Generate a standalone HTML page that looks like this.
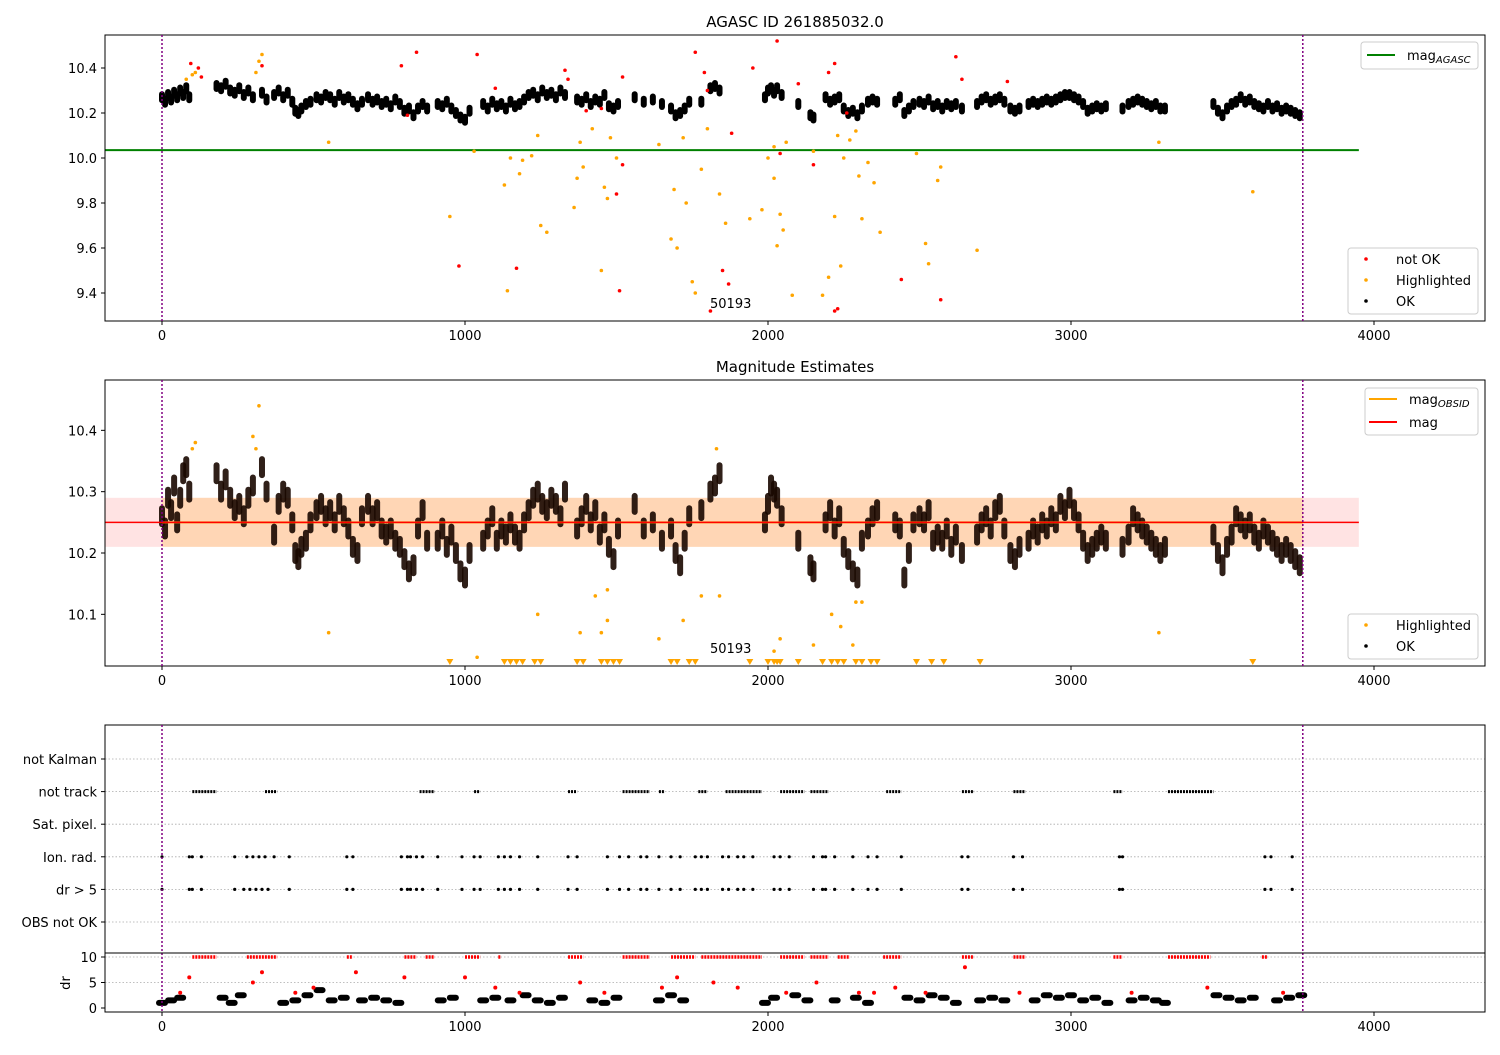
<!DOCTYPE html>
<html><head><meta charset="utf-8"><style>
body{margin:0;background:#fff}
svg text{font-family:"DejaVu Sans","Liberation Sans",sans-serif;font-size:13px;fill:#000}
</style></head><body>
<svg id="fig" width="1500" height="1050" xmlns="http://www.w3.org/2000/svg">
<defs>
<clipPath id="c1"><rect x="105" y="35" width="1380" height="286"/></clipPath>
<clipPath id="c2"><rect x="105" y="380" width="1380" height="286"/></clipPath>
<clipPath id="c3"><rect x="105" y="725" width="1380" height="287"/></clipPath>
</defs>
<text x="795" y="27" text-anchor="middle" style="font-size:15px">AGASC ID 261885032.0</text>
<text x="795" y="372" text-anchor="middle" style="font-size:15px">Magnitude Estimates</text>
<g id="g1" clip-path="url(#c1)"></g>
<g id="g2" clip-path="url(#c2)"></g>
<g id="g3" clip-path="url(#c3)"></g>
<g id="axes"></g>
</svg>
<script>
const okT=[0,10,20,30,40,50,60,70,80,90,180,195,210,225,240,255,270,285,300,330,345,370,385,400,415,430,440,450,460,475,490,510,525,540,555,570,585,600,615,630,645,660,680,695,710,725,740,755,770,785,800,815,830,845,860,875,910,925,940,955,970,985,1000,1015,1060,1075,1090,1105,1120,1135,1150,1165,1180,1195,1210,1225,1240,1255,1270,1285,1300,1315,1330,1370,1385,1400,1415,1430,1445,1460,1475,1490,1505,1560,1590,1620,1650,1680,1695,1710,1725,1740,1780,1810,1825,1840,1990,2000,2010,2020,2030,2045,2100,2140,2150,2190,2205,2220,2235,2250,2265,2280,2295,2310,2330,2345,2360,2420,2435,2450,2465,2480,2500,2515,2530,2545,2560,2575,2590,2605,2620,2640,2690,2705,2720,2735,2750,2765,2780,2800,2815,2830,2860,2875,2890,2905,2920,2935,2950,2965,2980,2995,3010,3025,3040,3055,3070,3085,3100,3115,3170,3190,3205,3220,3235,3250,3265,3280,3295,3310,3470,3485,3500,3515,3530,3545,3560,3575,3590,3605,3620,3635,3650,3665,3680,3695,3710,3725,3740,3755];
const okMag1=[10.27,10.25,10.28,10.26,10.29,10.27,10.30,10.28,10.31,10.27,10.32,10.31,10.33,10.30,10.29,10.31,10.28,10.30,10.27,10.29,10.26,10.28,10.30,10.27,10.29,10.25,10.21,10.20,10.22,10.24,10.25,10.27,10.26,10.28,10.27,10.25,10.28,10.26,10.27,10.25,10.23,10.25,10.27,10.25,10.26,10.24,10.25,10.23,10.26,10.24,10.21,10.22,10.19,10.22,10.24,10.22,10.24,10.23,10.25,10.22,10.20,10.18,10.17,10.21,10.24,10.22,10.25,10.23,10.24,10.22,10.25,10.23,10.24,10.26,10.28,10.29,10.27,10.30,10.28,10.29,10.27,10.30,10.28,10.26,10.25,10.27,10.24,10.26,10.25,10.28,10.23,10.22,10.24,10.27,10.25,10.26,10.24,10.22,10.19,10.20,10.22,10.25,10.25,10.31,10.32,10.30,10.27,10.30,10.31,10.29,10.31,10.28,10.24,10.19,10.18,10.27,10.25,10.26,10.27,10.22,10.20,10.21,10.19,10.22,10.25,10.26,10.25,10.25,10.27,10.20,10.22,10.24,10.25,10.24,10.26,10.23,10.24,10.22,10.24,10.23,10.24,10.22,10.24,10.26,10.27,10.25,10.26,10.27,10.25,10.22,10.21,10.22,10.24,10.25,10.24,10.25,10.26,10.25,10.26,10.27,10.28,10.28,10.27,10.26,10.24,10.21,10.22,10.23,10.22,10.23,10.22,10.24,10.25,10.26,10.25,10.24,10.23,10.24,10.22,10.22,10.24,10.21,10.19,10.22,10.24,10.25,10.27,10.25,10.26,10.24,10.23,10.22,10.24,10.22,10.23,10.21,10.22,10.21,10.20,10.19];
const okMag2=[10.26,10.24,10.29,10.27,10.31,10.25,10.29,10.33,10.34,10.30,10.33,10.30,10.32,10.29,10.27,10.28,10.26,10.29,10.31,10.34,10.30,10.23,10.28,10.30,10.29,10.25,10.20,10.19,10.21,10.22,10.25,10.27,10.28,10.26,10.27,10.25,10.28,10.26,10.24,10.21,10.20,10.26,10.28,10.26,10.27,10.24,10.23,10.24,10.22,10.21,10.19,10.17,10.18,10.24,10.27,10.22,10.22,10.24,10.21,10.23,10.20,10.17,10.16,10.20,10.22,10.24,10.26,10.22,10.24,10.23,10.25,10.23,10.22,10.25,10.27,10.29,10.30,10.28,10.27,10.29,10.28,10.26,10.30,10.24,10.26,10.28,10.25,10.27,10.23,10.25,10.21,10.19,10.24,10.28,10.24,10.25,10.22,10.24,10.20,10.18,10.22,10.26,10.27,10.30,10.31,10.33,10.25,10.28,10.31,10.30,10.29,10.26,10.22,10.18,10.17,10.25,10.27,10.24,10.26,10.21,10.19,10.17,10.16,10.22,10.24,10.26,10.27,10.25,10.24,10.16,10.20,10.25,10.26,10.25,10.27,10.22,10.23,10.22,10.24,10.21,10.23,10.20,10.23,10.25,10.26,10.24,10.27,10.28,10.24,10.20,10.19,10.21,10.22,10.24,10.23,10.25,10.24,10.26,10.25,10.28,10.27,10.29,10.27,10.25,10.22,10.20,10.21,10.22,10.23,10.22,10.21,10.23,10.26,10.25,10.24,10.23,10.22,10.21,10.20,10.21,10.23,10.20,10.18,10.21,10.23,10.26,10.25,10.24,10.25,10.23,10.22,10.24,10.23,10.22,10.21,10.20,10.21,10.20,10.19,10.18];
const hiT1=[80,100,110,310,320,330,550,950,1030,1130,1140,1150,1180,1190,1220,1240,1250,1270,1360,1370,1380,1390,1420,1450,1460,1470,1480,1500,1640,1680,1690,1700,1720,1730,1750,1760,1780,1800,1840,1860,1940,1980,2000,2020,2020,2030,2040,2050,2060,2080,2150,2180,2200,2220,2230,2240,2250,2270,2290,2300,2310,2330,2350,2370,2490,2520,2530,2560,2570,2690,3290,3600];
const hiMag1=[10.35,10.37,10.38,10.38,10.43,10.46,10.07,9.74,10.03,9.88,9.41,10.0,9.93,9.99,10.01,10.1,9.7,9.67,9.78,9.91,10.07,9.96,10.13,9.5,9.87,9.82,10.09,10.0,10.06,9.64,9.86,9.6,10.09,9.8,9.45,9.4,9.95,10.13,9.84,9.71,9.73,9.77,10.0,10.05,9.91,9.61,9.75,9.68,10.07,9.39,10.03,9.39,9.47,9.74,10.1,9.52,10.0,10.08,10.12,9.92,9.73,9.98,9.89,9.67,10.02,9.62,9.53,9.9,9.96,9.59,10.07,9.85];
const badT=[95,120,130,330,790,840,810,980,1040,1170,1100,1330,1340,1400,1450,1500,1510,1520,1520,1760,1790,1800,1810,1850,1870,1880,1950,2030,2040,2100,2150,2200,2220,2220,2230,2260,2440,2570,2620,2640,2790];
const badMag=[10.42,10.4,10.36,10.41,10.41,10.47,10.19,9.52,10.46,9.51,10.31,10.39,10.35,10.21,10.22,9.84,9.41,10.36,9.97,10.47,10.38,10.3,9.32,9.5,9.44,10.11,10.4,10.52,10.02,10.33,9.97,10.38,10.42,9.32,9.33,10.2,9.46,9.37,10.45,10.35,10.34];
const hiT2=[100,110,300,310,320,550,1040,1240,1380,1430,1450,1470,1470,1640,1720,1780,1830,1840,2020,2040,2150,2210,2240,2280,2290,2310,3290];
const hiMag2=[10.37,10.38,10.39,10.37,10.44,10.07,10.03,10.1,10.07,10.13,10.07,10.09,10.14,10.06,10.09,10.13,10.37,10.13,10.04,10.06,10.05,10.1,10.08,10.05,10.12,10.12,10.07];
const lowT2=[950,1130,1150,1170,1190,1230,1250,1370,1390,1450,1470,1490,1510,1680,1700,1740,1760,1940,2000,2020,2030,2040,2100,2180,2210,2230,2250,2290,2310,2340,2360,2490,2540,2580,2700,3600];
const agascMag=[10.035];
const obsMag=[10.25], bandLo=[10.21], bandHi=[10.29];
const flagRows=["not Kalman","not track","Sat. pixel.","Ion. rad.","dr > 5","OBS not OK"];
const trackStart=[100,340,850,1030,1340,1520,1640,1770,1860,2040,2140,2390,2640,2810,3140,3320];
const trackEnd=[180,380,900,1050,1370,1610,1660,1800,1980,2120,2200,2440,2680,2850,3170,3470];
const ionT=[0,90,100,130,240,280,300,320,340,370,420,610,630,790,810,820,840,860,910,990,1030,1050,1110,1130,1150,1180,1240,1340,1370,1470,1510,1540,1580,1600,1640,1680,1710,1760,1780,1800,1850,1870,1900,1920,1950,2020,2040,2070,2150,2180,2190,2220,2280,2330,2360,2440,2640,2660,2810,2840,3160,3170,3640,3660,3730];
const drBigT=[0,90,100,130,240,270,290,310,330,350,420,610,630,790,810,820,840,860,910,990,1030,1050,1110,1130,1150,1180,1240,1340,1370,1470,1510,1540,1580,1600,1640,1680,1710,1760,1780,1800,1850,1870,1900,1920,1950,2020,2040,2070,2150,2180,2190,2220,2280,2330,2360,2440,2640,2660,2810,2840,3160,3170,3640,3660,3730];
const drRunStart=[100,280,610,800,870,1000,1110,1340,1520,1680,1780,2040,2140,2230,2380,2640,2810,3140,3320,3630];
const drRunEnd=[180,380,630,840,900,1050,1120,1390,1610,1760,1980,2120,2200,2270,2440,2680,2850,3170,3460,3650];
const drT=[0,30,60,200,230,260,400,440,480,520,560,600,660,700,740,780,920,960,1060,1100,1150,1200,1240,1280,1320,1420,1460,1500,1640,1680,1720,1990,2020,2090,2130,2220,2290,2330,2460,2500,2540,2580,2620,2700,2740,2780,2880,2920,2960,3000,3040,3080,3120,3200,3240,3280,3310,3480,3520,3560,3600,3680,3720,3760];
const drV=[1.0,1.5,2.0,2.0,1.0,2.5,1.0,1.5,2.5,3.5,1.5,2.0,1.5,2.0,1.5,1.0,1.5,2.0,1.5,2.0,1.5,2.5,1.5,1.0,2.0,1.5,1.0,2.0,1.5,2.5,1.5,1.0,2.0,2.5,1.5,1.5,2.0,1.0,2.0,1.5,2.5,2.0,1.0,1.5,2.0,1.5,1.5,2.5,2.0,2.5,1.5,2.0,1.0,1.5,2.0,1.5,1.0,2.5,2.0,1.5,2.0,1.5,2.0,2.5];
const drRedT=[60,90,300,330,440,500,640,800,1000,1100,1180,1380,1460,1650,1700,1820,1900,2060,2160,2300,2350,2420,2520,2650,2830,3200,3450,3700];
const drRedV=[3,6,5,7,3,4,7,6,6,4,3,5,3,4,6,5,4,3,5,3,3,4,3,8,3,3,4,3];
const xTicks=[0,1000,2000,3000,4000];
const y1Ticks=[9.4,9.6,9.8,10.0,10.2,10.4];
const y2Ticks=[10.1,10.2,10.3,10.4];
const drTicks=[0,5,10];

const NS="http://www.w3.org/2000/svg";
const X=t=>162+t*0.303;
const Y1=m=>158-(m-10)*225;
const Y2=m=>553-(m-10.2)*613.3;
const Y3=i=>759+i*32.6;
const YD=v=>1008-v*5.1;
function mk(p,tag,a){const e=document.createElementNS(NS,tag);for(const k in a)e.setAttribute(k,a[k]);p.appendChild(e);return e;}
const g1=document.getElementById('g1'),g2=document.getElementById('g2'),g3=document.getElementById('g3'),ax=document.getElementById('axes');

let e;
e=mk(g1,'line',{x1:105,x2:X(3950),y1:Y1(agascMag[0]),y2:Y1(agascMag[0]),stroke:'green','stroke-width':2});

// OK points drawn as small clusters (marker glyph elongated to mimic point scatter)
okT.forEach((t,i)=>{e=mk(g1,'rect',{x:X(t)-3,y:Y1(okMag1[i])-6,width:6,height:12,rx:3,fill:'#000'});
});
hiT1.forEach((t,i)=>{e=mk(g1,'circle',{cx:X(t),cy:Y1(hiMag1[i]),r:1.8,fill:'orange'});
});
badT.forEach((t,i)=>{e=mk(g1,'circle',{cx:X(t),cy:Y1(badMag[i]),r:1.8,fill:'red'});
});

e=mk(g2,'rect',{x:105,y:Y2(bandHi[0]),width:X(3950)-105,height:Y2(bandLo[0])-Y2(bandHi[0]),fill:'rgba(255,0,0,0.11)'});

e=mk(g2,'rect',{x:X(0),y:Y2(bandHi[0]),width:X(3765)-X(0),height:Y2(bandLo[0])-Y2(bandHi[0]),fill:'rgba(255,165,0,0.2)'});

okT.forEach((t,i)=>{e=mk(g2,'rect',{x:X(t)-3,y:Y2(okMag2[i])-11,width:6,height:22,rx:3,fill:'#1a0800','fill-opacity':0.9});
});
hiT2.forEach((t,i)=>{e=mk(g2,'circle',{cx:X(t),cy:Y2(hiMag2[i]),r:1.8,fill:'orange'});
});
lowT2.forEach(t=>{const x=X(t),y=663;e=mk(g2,'polygon',{points:`${x-3.5},${y-4} ${x+3.5},${y-4} ${x},${y+2}`,fill:'orange'});
});
e=mk(g2,'line',{x1:X(0),x2:X(3765),y1:Y2(obsMag[0]),y2:Y2(obsMag[0]),stroke:'orange','stroke-width':2});

e=mk(g2,'line',{x1:105,x2:X(3950),y1:Y2(obsMag[0]),y2:Y2(obsMag[0]),stroke:'red','stroke-width':1.5});


flagRows.forEach((n,i)=>{e=mk(g3,'line',{x1:105,x2:1485,y1:Y3(i),y2:Y3(i),stroke:'#aaa','stroke-dasharray':'1.5,2','stroke-width':0.8});
});
[5,10].forEach(v=>{e=mk(g3,'line',{x1:105,x2:1485,y1:YD(v),y2:YD(v),stroke:'#aaa','stroke-dasharray':'1.5,2','stroke-width':0.8});
});
trackStart.forEach((s,i)=>{e=mk(g3,'line',{x1:X(s),x2:X(trackEnd[i]),y1:Y3(1),y2:Y3(1),stroke:'#000','stroke-width':3,'stroke-dasharray':'2,1'});
});
ionT.forEach(t=>{e=mk(g3,'circle',{cx:X(t),cy:Y3(3),r:1.6,fill:'#000'});
});
drBigT.forEach(t=>{e=mk(g3,'circle',{cx:X(t),cy:Y3(4),r:1.6,fill:'#000'});
});
drRunStart.forEach((s,i)=>{e=mk(g3,'line',{x1:X(s),x2:X(drRunEnd[i]),y1:YD(10),y2:YD(10),stroke:'red','stroke-width':3.5,'stroke-dasharray':'2,1'});
});
drT.forEach((t,i)=>{e=mk(g3,'rect',{x:X(t)-6,y:YD(drV[i])-3,width:12,height:6,rx:3,fill:'#000'});
});
drRedT.forEach((t,i)=>{e=mk(g3,'circle',{cx:X(t),cy:YD(drRedV[i]),r:2,fill:'red'});
});

[[35,321],[380,666],[725,1012]].forEach(([a,b],k)=>{
e=mk(ax,'rect',{x:105,y:a,width:1380,height:b-a,fill:'none',stroke:'#000','stroke-width':1});

[0,3765].forEach(t=>{e=mk(ax,'line',{x1:X(t),x2:X(t),y1:a,y2:b,stroke:'purple','stroke-dasharray':'2,2','stroke-width':1.5});
});
xTicks.forEach(v=>{e=mk(ax,'line',{x1:X(v),x2:X(v),y1:b,y2:b+4,stroke:'#000'});

e=mk(ax,'text',{x:X(v),y:b+19,'text-anchor':'middle'});e.textContent=v;
});
});
e=mk(ax,'line',{x1:105,x2:1485,y1:953,y2:953,stroke:'#000'});

function yt(y,label,n){e=mk(ax,'line',{x1:101,x2:105,y1:y,y2:y,stroke:'#000'});

e=mk(ax,'text',{x:97,y:y+5,'text-anchor':'end'});e.textContent=label;
}
y1Ticks.forEach(v=>yt(Y1(v),v.toFixed(1),'y-tick-label'));
y2Ticks.forEach(v=>yt(Y2(v),v.toFixed(1),'y-tick-label'));
flagRows.forEach((n,i)=>yt(Y3(i),n,'flag-label'));
drTicks.forEach(v=>yt(YD(v),String(v),'dr-tick-label'));
e=mk(ax,'text',{x:70,y:983,'text-anchor':'middle',transform:'rotate(-90 70 983)'});e.textContent='dr';

[308,653].forEach(y=>{e=mk(ax,'text',{x:710,y:y});e.textContent='50193';
});

function box(x,y,w,h,n){e=mk(ax,'rect',{x:x,y:y,width:w,height:h,rx:3,fill:'#fff','fill-opacity':0.85,stroke:'#ccc'});
}
function lineEntry(x,y,c,label,sub,n){e=mk(ax,'line',{x1:x,x2:x+28,y1:y,y2:y,stroke:c,'stroke-width':2});

e=mk(ax,'text',{x:x+40,y:y+5});e.textContent=label;
if(sub){const s=mk(e,'tspan',{dy:3,'font-style':'italic',style:'font-size:10px'});s.textContent=sub;}
}
function dotEntry(x,y,c,label,n){e=mk(ax,'circle',{cx:x+14,cy:y,r:1.8,fill:c});

e=mk(ax,'text',{x:x+44,y:y+5});e.textContent=label;
}
box(1361,42,117,27,'legend-agasc');lineEntry(1367,55,'green','mag','AGASC','legend-entry-mag-agasc');
box(1348,248,130,66,'legend-points');
dotEntry(1352,259,'red','not OK','legend-entry-not-ok');
dotEntry(1352,280,'orange','Highlighted','legend-entry-highlighted');
dotEntry(1352,301,'#000','OK','legend-entry-ok');
box(1365,388,113,47,'legend-estimates');
lineEntry(1369,399,'orange','mag','OBSID','legend-entry-mag-obsid');
lineEntry(1369,422,'red','mag',null,'legend-entry-mag');
box(1348,614,130,45,'legend-estimate-points');
dotEntry(1352,625,'orange','Highlighted','legend-entry-highlighted-2');
dotEntry(1352,646,'#000','OK','legend-entry-ok-2');
</script>
</body></html>
